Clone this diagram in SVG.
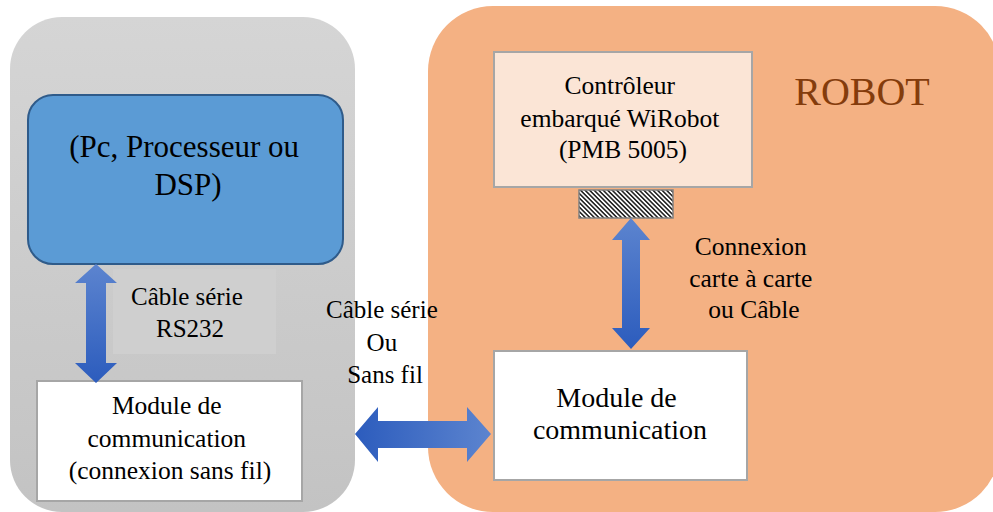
<svg xmlns="http://www.w3.org/2000/svg" width="993" height="512" viewBox="0 0 993 512">
  <style>
    text { font-family: "Liberation Serif", "DejaVu Serif", serif; fill: #000; text-anchor: middle; }
    .box { fill: #fff; stroke: #a6a6a6; stroke-width: 2; }
    .arrowV { fill: url(#gradV); }
    .arrowH { fill: url(#gradH); }
  </style>
  <defs>
    <linearGradient id="grayPanel" x1="0" y1="0" x2="0" y2="1">
      <stop offset="0" stop-color="#d5d5d5"/>
      <stop offset="1" stop-color="#c3c3c3"/>
    </linearGradient>
    <linearGradient id="gradV" x1="0" y1="0" x2="0" y2="1">
      <stop offset="0" stop-color="#5c84cf"/>
      <stop offset="1" stop-color="#2c5cbd"/>
    </linearGradient>
    <linearGradient id="gradH" x1="0" y1="0" x2="1" y2="0">
      <stop offset="0" stop-color="#2c5cbd"/>
      <stop offset="1" stop-color="#5c84cf"/>
    </linearGradient>
    <pattern id="hatch" width="3.2" height="3.2" patternUnits="userSpaceOnUse" patternTransform="rotate(-45)">
      <rect width="3.2" height="3.2" fill="#ffffff"/>
      <rect width="1.6" height="3.2" fill="#262626"/>
    </pattern>
  </defs>

  <!-- host side panel -->
  <g id="host-panel">
    <rect x="10" y="17" width="345" height="495" rx="52" ry="52" fill="url(#grayPanel)"/>
  </g>

  <!-- robot side panel -->
  <g id="robot-panel">
    <rect x="428" y="6" width="572" height="506" rx="65" ry="65" fill="#f4b183"/>
    <text x="862" y="105" font-family="Liberation Serif, DejaVu Serif, serif" font-size="40" style="fill:#843c0c">ROBOT</text>
  </g>

  <!-- host processor -->
  <g id="host-processor">
    <rect x="28" y="95" width="315" height="169" rx="25" ry="25" fill="#5b9bd5" stroke="#2f5b8a" stroke-width="2"/>
    <text font-family="Liberation Serif, DejaVu Serif, serif" font-size="31">
      <tspan x="188" y="157">(Pc, Processeur ou</tspan>
      <tspan x="188" y="195">DSP)</tspan>
    </text>
  </g>

  <!-- host communication module -->
  <g id="host-module">
    <rect class="box" x="37" y="381" width="265" height="120"/>
    <text font-family="Liberation Serif, DejaVu Serif, serif" font-size="25.5">
      <tspan x="170" y="414">Module de</tspan>
      <tspan x="170" y="447">communication</tspan>
      <tspan x="170" y="479">(connexion sans fil)</tspan>
    </text>
  </g>

  <!-- embedded controller -->
  <g id="controller">
    <rect x="494" y="52" width="258" height="135" fill="#fbe5d6" stroke="#a6a6a6" stroke-width="2"/>
    <text font-family="Liberation Serif, DejaVu Serif, serif" font-size="25.5">
      <tspan x="623" y="94">Contrôleur</tspan>
      <tspan x="623" y="127">embarqué WiRobot</tspan>
      <tspan x="623" y="158">(PMB 5005)</tspan>
    </text>
    <rect x="579" y="190" width="94" height="28" fill="url(#hatch)" stroke="#808080" stroke-width="1.5"/>
  </g>

  <!-- robot communication module -->
  <g id="robot-module">
    <rect class="box" x="494" y="351" width="253" height="129"/>
    <text font-family="Liberation Serif, DejaVu Serif, serif" font-size="28">
      <tspan x="620" y="407">Module de</tspan>
      <tspan x="620" y="439">communication</tspan>
    </text>
  </g>

  <!-- links between blocks -->
  <g id="connectors">
    <!-- serial cable host side -->
    <rect x="113" y="269" width="163" height="85" fill="#cfcfcf"/>
    <path class="arrowV" d="M96,264 L117,283 L106,283 L106,363 L117,363 L96,383 L75,363 L86,363 L86,283 L75,283 Z"/>
    <text font-family="Liberation Serif, DejaVu Serif, serif" font-size="25">
      <tspan x="190" y="305">Câble série</tspan>
      <tspan x="190" y="337">RS232</tspan>
    </text>

    <!-- link between the two modules -->
    <path class="arrowH" d="M355,434 L378,407 L378,421 L467,421 L467,407 L491,434 L467,462 L467,448 L378,448 L378,462 Z"/>
    <text font-family="Liberation Serif, DejaVu Serif, serif" font-size="25">
      <tspan x="385" y="318">Câble série</tspan>
      <tspan x="385" y="351">Ou</tspan>
      <tspan x="385" y="383">Sans fil</tspan>
    </text>

    <!-- board to board link -->
    <path class="arrowV" d="M631,218 L650,240 L640,240 L640,328 L650,328 L631,349 L612,328 L622,328 L622,240 L612,240 Z"/>
    <text font-family="Liberation Serif, DejaVu Serif, serif" font-size="25.5">
      <tspan x="754" y="255">Connexion</tspan>
      <tspan x="754" y="287">carte à carte</tspan>
      <tspan x="754" y="318">ou Câble</tspan>
    </text>
  </g>
</svg>
